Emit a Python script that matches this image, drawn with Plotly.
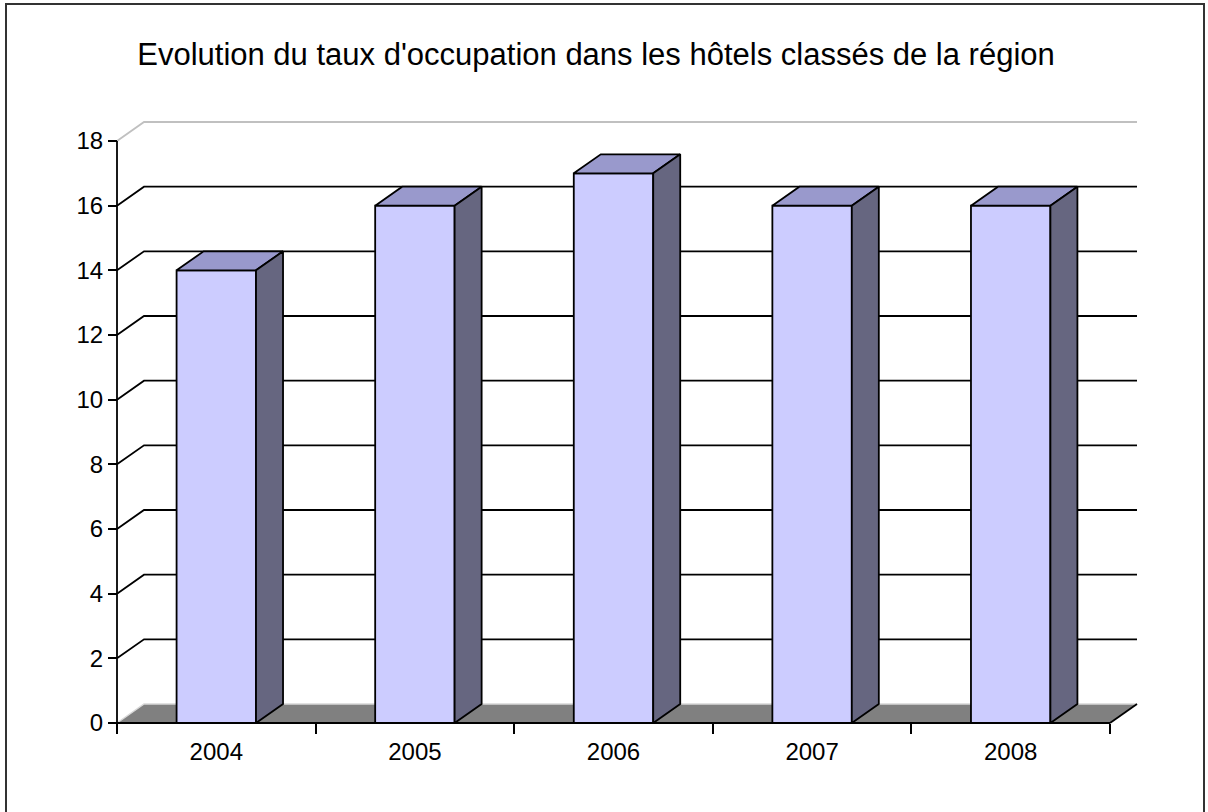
import plotly.graph_objects as go

years = ["2004", "2005", "2006", "2007", "2008"]
values = [14, 16, 17, 16, 16]
yticks = [0, 2, 4, 6, 8, 10, 12, 14, 16, 18]
title = "Evolution du taux d'occupation dans les hôtels classés de la région"

# 3D look parameters (in data units)
DX = 0.136   # depth offset along x (category units)
DY = 0.588   # depth offset along y (value units)
HW = 0.2     # half width of bar front face
YMAX = 18

FRONT = "#CCCCFF"
TOP = "#9999CC"
SIDE = "#666680"
FLOOR = "#808080"

W, H = 1208, 812
L, R, T, B = 114, 68, 119, 86
pw, ph = W - L - R, H - T - B
n = len(years)
x0, x1 = -0.5, n - 0.5
padx = 3 / 198.6
pady = 3 / 32.33
xr = [x0 - padx, x1 + DX + padx]
yr = [0 - pady, YMAX + DY + pady]

fig = go.Figure()

def poly(xs, ys, fill, line="black", lw=1.8):
    fig.add_trace(go.Scatter(x=xs + [xs[0]], y=ys + [ys[0]], mode="lines",
                             fill="toself", fillcolor=fill,
                             line=dict(color=line, width=lw),
                             hoverinfo="skip", showlegend=False))

def seg(xs, ys, color="black", lw=1.8):
    fig.add_trace(go.Scatter(x=xs, y=ys, mode="lines",
                             line=dict(color=color, width=lw),
                             hoverinfo="skip", showlegend=False))

# floor
fig.add_trace(go.Scatter(x=[x0, x1, x1 + DX, x0 + DX, x0], y=[0, 0, DY, DY, 0],
                         mode="lines", fill="toself", fillcolor=FLOOR,
                         line=dict(width=0, color=FLOOR),
                         hoverinfo="skip", showlegend=False))
seg([x0, x0 + DX, x1 + DX], [0, DY, DY], color="#D8D8D8", lw=1.5)
seg([x1, x1 + DX], [0, DY], color="black", lw=1.8)

# back wall gridlines with side diagonals
for v in yticks[1:]:
    c = "#C0C0C0" if v == YMAX else "black"
    seg([x0, x0 + DX, x1 + DX], [v, v + DY, v + DY], color=c, lw=1.8)

# y axis line
seg([x0, x0], [0, YMAX], color="black", lw=1.8)

# bars
for i, v in enumerate(values):
    xl, xrr = i - HW, i + HW
    poly([xl, xrr, xrr, xl], [0, 0, v, v], FRONT)
    poly([xl, xrr, xrr + DX, xl + DX], [v, v, v + DY, v + DY], TOP)
    poly([xrr, xrr + DX, xrr + DX, xrr], [0, DY, v + DY, v], SIDE)

# x axis line
seg([x0, x1], [0, 0], color="black", lw=1.8)

fig.update_layout(
    width=W, height=H,
    margin=dict(l=L, r=R, t=T, b=B, pad=0),
    paper_bgcolor="white", plot_bgcolor="white",
    font=dict(family="Liberation Sans, Arial, sans-serif", color="black", size=24),
    showlegend=False,
    title=dict(text=title, x=596 / W, xanchor="center", xref="container",
               y=1 - 54 / H, yanchor="middle", yref="container",
               font=dict(size=31, family="Liberation Sans, Arial, sans-serif", color="black")),
    xaxis=dict(range=xr, tickmode="array", tickvals=list(range(n)), ticktext=years,
               ticks="", showgrid=False, zeroline=False, showline=False,
               anchor="free", position=pady / (yr[1] - yr[0]),
               ticklabelstandoff=12,
               minor=dict(tickmode="array", tickvals=[i - 0.5 for i in range(n + 1)],
                          ticks="outside", ticklen=10, tickwidth=1.8, tickcolor="black",
                          showgrid=False),
               fixedrange=True),
    yaxis=dict(range=yr, tickmode="array", tickvals=yticks,
               ticks="outside", ticklen=9, tickwidth=1.8, tickcolor="black",
               showgrid=False, zeroline=False, showline=False,
               anchor="free", position=padx / (xr[1] - xr[0]),
               fixedrange=True),
)

# outer border of the chart
fig.add_shape(type="rect", xref="paper", yref="paper",
              x0=(6 - L) / pw, x1=(1204 - L) / pw,
              y0=(H - B - 830) / ph, y1=(H - B - 4) / ph,
              line=dict(color="#333333", width=2), fillcolor="rgba(0,0,0,0)", layer="below")

fig.write_html("out.html", config={"displayModeBar": False},
               post_script="document.body.style.margin='0';document.body.style.overflow='hidden';")
